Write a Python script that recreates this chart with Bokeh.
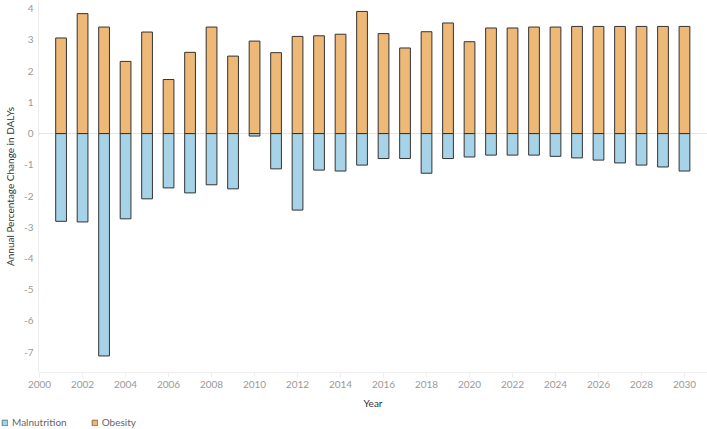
from bokeh.plotting import figure
from bokeh.layouts import column
from bokeh.models import Range1d, FixedTicker, Span, Legend, LegendItem, ColumnDataSource
from bokeh.embed import file_html
from bokeh.resources import INLINE

years = list(range(2001, 2031))
obesity = [3.06, 3.84, 3.41, 2.31, 3.25, 1.73, 2.60, 3.41, 2.48, 2.96,
           2.59, 3.11, 3.13, 3.18, 3.91, 3.20, 2.74, 3.26, 3.54, 2.94,
           3.38, 3.38, 3.41, 3.41, 3.43, 3.43, 3.43, 3.43, 3.43, 3.43]
malnutrition = [-2.81, -2.83, -7.12, -2.73, -2.09, -1.74, -1.90, -1.64, -1.77, -0.08,
                -1.13, -2.45, -1.17, -1.20, -1.01, -0.80, -0.80, -1.27, -0.80, -0.75,
                -0.69, -0.69, -0.69, -0.73, -0.78, -0.85, -0.94, -1.01, -1.07, -1.20]
x_ticks = list(range(2000, 2031, 2))
y_ticks = list(range(-7, 5))
series_names = ["Malnutrition", "Obesity"]

FONT = "Lato"
OBES = "#EEB877"
MAL = "#A7D3E9"

src = ColumnDataSource(dict(year=years, obesity=obesity, malnutrition=malnutrition))

p = figure(width=707, height=411, x_range=Range1d(1999.95, 2031.07), y_range=Range1d(-7.65, 4.26),
           output_backend="svg", toolbar_location=None,
           min_border_left=38, min_border_right=0, min_border_top=0, min_border_bottom=37)
p.outline_line_color = None
p.grid.visible = False
p.frame_align = False

zero = Span(location=0, dimension="width", line_color="#c8c8c8", line_dash="1 1", line_width=1, level="underlay")
p.add_layout(zero)

p.vbar(x="year", top="malnutrition", bottom=0, width=0.5, source=src,
       fill_color=MAL, line_color="#333333", line_width=1)
p.vbar(x="year", top="obesity", bottom=0, width=0.5, source=src,
       fill_color=OBES, line_color="#333333", line_width=1)

# y axis
p.yaxis.ticker = FixedTicker(ticks=y_ticks)
p.yaxis.major_label_overrides = {t: str(t) for t in y_ticks}
p.yaxis.axis_label = "Annual Percentage Change in DALYs"
p.yaxis.axis_line_color = "#eeeeee"
p.yaxis.major_tick_line_color = None
p.yaxis.major_tick_out = 0
p.yaxis.major_tick_in = 0
p.yaxis.minor_tick_line_color = None
p.yaxis.minor_tick_out = 0
p.yaxis.major_label_standoff = 5
p.yaxis.axis_label_standoff = 5
p.yaxis.major_label_text_font = FONT
p.yaxis.major_label_text_font_size = "10px"
p.yaxis.major_label_text_color = "#999999"
p.yaxis.axis_label_text_font = FONT
p.yaxis.axis_label_text_font_size = "10px"
p.yaxis.axis_label_text_font_style = "normal"
p.yaxis.axis_label_text_color = "#333333"

# x axis
p.xaxis.ticker = FixedTicker(ticks=x_ticks)
p.xaxis.axis_label = "Year"
p.xaxis.axis_line_color = "#eeeeee"
p.xaxis.major_tick_line_color = "#eeeeee"
p.xaxis.major_tick_out = 5
p.xaxis.major_tick_in = 0
p.xaxis.minor_tick_line_color = None
p.xaxis.minor_tick_out = 0
p.xaxis.major_label_standoff = 3
p.xaxis.axis_label_standoff = 6
p.xaxis.major_label_text_font = FONT
p.xaxis.major_label_text_font_size = "10px"
p.xaxis.major_label_text_color = "#999999"
p.xaxis.axis_label_text_font = FONT
p.xaxis.axis_label_text_font_size = "10px"
p.xaxis.axis_label_text_font_style = "normal"
p.xaxis.axis_label_text_color = "#333333"

# legend strip (swatches only; the dummy point lies outside the visible range)
pl = figure(width=707, height=18, x_range=Range1d(0, 1), y_range=Range1d(0, 1),
            output_backend="svg", toolbar_location=None, min_border=0,
            x_axis_location=None, y_axis_location=None)
pl.outline_line_color = None
pl.grid.visible = False
pl.frame_align = False
lm = pl.vbar(x=[-10], top=[-10], bottom=[-11], width=0.5, fill_color=MAL, line_color="#5b7f93", line_width=1)
lo = pl.vbar(x=[-10], top=[-10], bottom=[-11], width=0.5, fill_color=OBES, line_color="#8f6e45", line_width=1)

legend = Legend(items=[LegendItem(label=series_names[0], renderers=[lm]),
                       LegendItem(label=series_names[1], renderers=[lo])],
                orientation="horizontal", location=(1, 1))
legend.border_line_color = None
legend.background_fill_alpha = 0
legend.padding = 0
legend.margin = 0
legend.glyph_width = 7
legend.glyph_height = 7
legend.label_standoff = 4
legend.spacing = 24
legend.label_text_font = FONT
legend.label_text_font_size = "10px"
legend.label_text_color = "#666666"
legend.label_height = 12
pl.add_layout(legend)

layout = column(p, pl, spacing=0)
open("out.html", "w").write(file_html(layout, INLINE))
